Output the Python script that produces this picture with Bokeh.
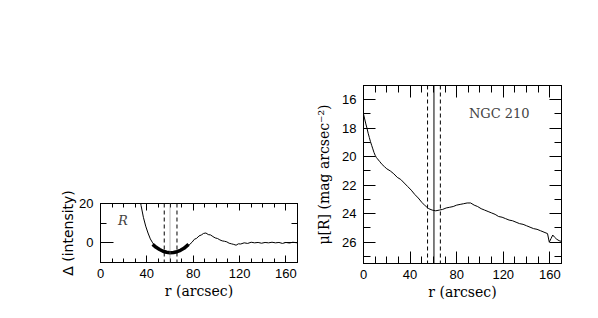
import math
from bokeh.plotting import figure
from bokeh.layouts import row
from bokeh.models import (LinearAxis, Range1d, FixedTicker, SingleIntervalTicker, Span, Label,
                          Title, CustomJSTickFormatter)
from bokeh.embed import file_html
from bokeh.resources import INLINE

# ---- Left panel: residual intensity profile ----
r_delta = [33, 35, 37, 39, 41, 43, 45, 47, 49, 51, 53, 55, 57, 59, 61, 63, 65, 67, 69, 71,
           73, 75, 77, 79, 81, 83, 85, 87, 89, 91, 93, 95, 97, 99, 101, 103, 105, 107, 109, 111,
           113, 115, 117, 119, 121, 124, 127, 130, 133, 136, 139, 142, 145, 148, 151, 154, 157,
           160, 163, 166, 170]
delta = [26, 19, 13, 8.5, 5, 2, 0, -1.5, -2.5, -3.2, -4, -4.5, -4.8, -5, -5, -4.8, -4.5, -4,
         -3.5, -3, -2.2, -1.5, -0.8, 0.3, 1.8, 2.3, 3.5, 4, 4.8, 5, 4.2, 4, 3.2, 2.5, 2.2, 1.5,
         1, 0.8, 0.5, -0.2, -0.5, -0.8, -1.2, -0.5, -0.6, 0, -0.3, 0.3, 0, 0.2, -0.2, 0.2, 0,
         0.3, 0, 0.2, -0.3, 0.2, -0.1, 0.3, 0]
r_fit = [45, 48, 51, 54, 57, 60, 63, 66, 69, 72, 76]
delta_fit = [-0.8, -2.3, -3.4, -4.3, -4.8, -5.0, -4.9, -4.5, -3.8, -2.8, -0.8]

# ---- Right panel: surface brightness profile ----
r_mu = [0, 1, 2, 3, 4, 5, 6, 7, 8, 9, 10, 11, 12, 14, 16, 18, 20, 23, 26, 29, 32, 35, 38, 41,
        44, 47, 50, 53, 56, 59, 62, 65, 68, 71, 74, 77, 80, 83, 86, 89, 92, 95, 98, 101, 104,
        107, 110, 113, 116, 119, 122, 125, 128, 131, 134, 137, 140, 143, 146, 149, 152, 155,
        158, 159.5, 161, 162.5, 164, 166, 168, 170]
mu = [17.0, 17.35, 17.7, 18.0, 18.35, 18.65, 18.95, 19.2, 19.45, 19.7, 19.9, 20.05, 20.15,
      20.35, 20.55, 20.7, 20.85, 21.0, 21.2, 21.45, 21.6, 21.85, 22.1, 22.35, 22.65, 22.9,
      23.2, 23.45, 23.65, 23.75, 23.8, 23.75, 23.7, 23.6, 23.55, 23.5, 23.4, 23.35, 23.3,
      23.25, 23.25, 23.4, 23.5, 23.65, 23.75, 23.85, 23.95, 24.05, 24.2, 24.25, 24.35, 24.45,
      24.5, 24.6, 24.7, 24.75, 24.85, 24.95, 25.05, 25.1, 25.2, 25.3, 25.4, 26.0, 25.75, 25.5,
      25.65, 25.8, 25.9, 25.95]

bar_edges = [55, 66]
bar_center = [60, 60.5]

TICK_FONT = "Liberation Sans"
SERIF = "DejaVu Serif"


def make_fig(fw, fh, bl, br, bt, bb, xr, yr, xticker, yticker, xmaj, xmin, ymaj, ymin):
    p = figure(frame_width=fw, frame_height=fh, x_range=xr, y_range=yr,
               output_backend="svg", toolbar_location=None,
               min_border_left=bl, min_border_right=br, min_border_top=bt, min_border_bottom=bb,
               x_axis_location=None, y_axis_location=None, frame_align=False)
    p.xgrid.visible = False
    p.ygrid.visible = False
    p.outline_line_color = "black"
    p.outline_line_width = 1
    p.background_fill_color = "white"
    p.border_fill_color = "white"
    common = dict(axis_line_color="black", major_tick_line_color="black",
                  minor_tick_line_color="black", major_label_text_color="black",
                  major_label_text_font=TICK_FONT, major_tick_out=0, minor_tick_out=0)
    xc = dict(common, ticker=xticker, major_tick_in=xmaj, minor_tick_in=xmin)
    yc = dict(common, ticker=yticker, major_tick_in=ymaj, minor_tick_in=ymin)
    blank = CustomJSTickFormatter(code="return '';")
    bottom = LinearAxis(axis_label="r (arcsec)",
                        axis_label_text_font=SERIF, axis_label_text_font_size="14px",
                        axis_label_text_font_style="normal", axis_label_standoff=2,
                        axis_label_text_color="black",
                        major_label_standoff=6, major_label_text_font_size="13px", **xc)
    top = LinearAxis(formatter=blank, major_label_standoff=0, **xc)
    left = LinearAxis(major_label_standoff=7, major_label_text_font_size="13px", **yc)
    right = LinearAxis(formatter=CustomJSTickFormatter(code="return '';"),
                       major_label_standoff=0, **yc)
    p.add_layout(bottom, "below")
    p.add_layout(top, "above")
    p.add_layout(left, "left")
    p.add_layout(right, "right")
    return p


# Left figure
p1 = make_fig(197, 59, 100, 8, 203, 38, Range1d(0, 170), Range1d(-10, 20.001),
              SingleIntervalTicker(interval=40, num_minor_ticks=4),
              FixedTicker(ticks=[0, 20], minor_ticks=[-10, 10]), 7, 4, 13, 6)
for xe in bar_edges:
    p1.add_layout(Span(location=xe, dimension="height", line_color="black",
                       line_width=1, line_dash="4 3"))
p1.add_layout(Span(location=bar_center[0], dimension="height", line_color="#777777",
                   line_width=1, line_dash="1 1"))
p1.line(r_delta, delta, line_color="black", line_width=1)
p1.line(r_fit, delta_fit, line_color="black", line_width=3.5)
p1.add_layout(Label(x=15, y=11.5, text="R", text_font=SERIF, text_font_style="italic",
                    text_font_size="13px", text_baseline="middle", text_align="left"))
p1.add_layout(Title(text="\u0394 (intensity)", align="center", offset=61, standoff=1,
                    text_font="DejaVu Sans", text_font_size="14px",
                    text_font_style="normal", text_color="black"), "left")

# Right figure
p2 = make_fig(198, 178, 58, 21, 85, 37, Range1d(0, 170), Range1d(27.5, 15),
              SingleIntervalTicker(interval=40, num_minor_ticks=4),
              SingleIntervalTicker(interval=2, num_minor_ticks=2), 12, 7, 12, 7)
for xe in bar_edges:
    p2.add_layout(Span(location=xe, dimension="height", line_color="black",
                       line_width=1, line_dash="4 3"))
p2.add_layout(Span(location=bar_center[1], dimension="height", line_color="black",
                   line_width=1))
p2.line(r_mu, mu, line_color="black", line_width=1)
p2.add_layout(Label(x=90.5, y=16.97, text="NGC 210", text_font=SERIF,
                    text_font_size="13px", text_baseline="middle", text_align="left"))
p2.add_layout(Title(text="\u03bc[R] (mag arcsec\u207b\u00b2)", align="center", offset=20,
                    standoff=16, text_font=SERIF, text_font_size="14px",
                    text_font_style="normal", text_color="black"), "left")

layout = row(p1, p2, spacing=0)
open("out.html", "w").write(file_html(layout, INLINE))
